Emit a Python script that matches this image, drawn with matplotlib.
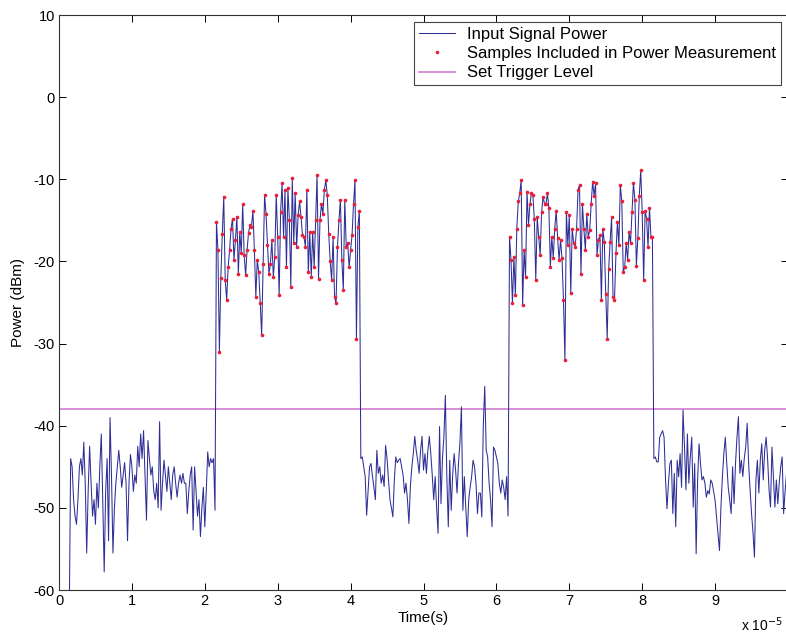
import numpy as np
import matplotlib
matplotlib.use("Agg")
import matplotlib.pyplot as plt

plt.rcParams['font.family'] = ['Liberation Sans', 'DejaVu Sans']
plt.rcParams['axes.unicode_minus'] = False

# ---------------- data (time in units of 1e-5 s, power in dBm) ----------------
t0 = 0.14
dt = 0.02

noise1 = [
    -64, -44, -45, -49, -51, -52, -49, -45, -44, -46,
    -42, -47, -55.5, -48, -42.5, -47, -51, -49, -52, -47,
    -50, -45, -41, -49, -57.8, -48, -44, -54, -39, -46,
    -55.5, -50, -47, -45, -43, -45, -47.5, -46, -44.5, -47,
    -54, -47, -43.5, -45, -48, -46, -47, -42.5, -45, -41,
    -44, -40.6, -46, -51.5, -41.8, -44, -46, -45, -48, -49,
    -47, -50, -39.5, -50.3, -47, -44.2, -46, -48, -45, -47,
    -49, -46, -45, -47, -48.7, -47, -46, -47, -45.8, -47,
    -47, -50.7, -48, -46, -45, -52.7, -45, -48, -51, -49,
    -53.5, -50, -47.5, -52.3, -48, -43.2, -45, -44, -44.5, -44,
    -50.3,
]

burst1 = [
    -15.2, -18.6, -31, -22, -16.6, -12.1, -22.3, -24.7, -20.7, -18.6,
    -16, -14.8, -19.8, -17.4, -14.6, -21.5, -16.4, -19, -13, -19.2,
    -21.7, -18.6, -16.5, -15.6, -15.8, -13.8, -18.6, -24.3, -19.8, -21.3,
    -25, -29, -20.3, -11.9, -14.2, -18, -21.5, -20.3, -17.4, -21.9,
    -19.4, -11.9, -17, -24.1, -14, -10.5, -17, -11.3, -20.7, -11.1,
    -15, -23.1, -9.9, -17.8, -11.7, -18.2, -14.4, -12.7, -14.6, -16.8,
    -17, -18.2, -11.3, -21.3, -16.4, -21.9, -16.4, -20.7, -15, -9.5,
    -22.1, -15, -13, -14.2, -11.3, -10.1, -11.9, -16.6, -20, -22.3,
    -17, -24.3, -25.1, -18.2, -15, -12.5, -19.8, -23.5, -12.5, -18.2,
    -17.8, -20.7, -18.6, -16.8, -13, -10.1, -29.4, -15.8, -13.8,
]

noise2 = [
    -44, -43.8, -45, -46.2, -50.9, -48, -45, -44.6, -46.2, -47.5,
    -49, -43, -45.8, -45, -47, -46, -47.4, -42.4, -44, -46.6,
    -49, -50, -51.1, -46.6, -43.8, -44.5, -44.2, -44, -45, -46,
    -48.2, -47, -49, -51.9, -47.4, -45, -43.4, -41.3, -43, -44.2,
    -45.8, -43, -41.3, -45.4, -43.4, -45.8, -43, -41.3, -43.4, -46,
    -49, -46.2, -50, -53.1, -40.1, -49.5, -44, -41.3, -36.3, -46.2,
    -52.3, -44.2, -50.3, -46, -43.4, -45.4, -48.2, -44.6, -42, -37.7,
    -50.3, -46.2, -50, -53.5, -49, -47.5, -46.2, -44.2, -45, -47,
    -50.7, -48.2, -48.2, -51.1, -40, -35.2, -43, -43.8, -47, -49,
    -52.3, -42.6, -43, -43.8, -44.6, -47, -48.2, -46.6, -47.5, -49,
    -46.2, -51,
]

burst2 = [
    -17, -19.8, -25.1, -19.4, -24.1, -16, -12.7, -11.7, -10.1, -25.3,
    -18.6, -21.9, -11.5, -15.6, -13, -11.7, -11.9, -14.8, -22.3, -14.6,
    -17, -19.2, -14, -12.1, -13, -13, -11.7, -13.5, -20.7, -17,
    -19.6, -16, -13.8, -17.2, -19.8, -17.4, -19.6, -24.7, -32, -14,
    -18, -14.4, -23.9, -16, -17.8, -18.2, -16, -11.3,
    -10.7, -21.5, -13, -16, -18.6, -14.2, -17, -16.2, -13, -10.3,
    -12, -10.5, -19.2, -17.4, -16.8, -24.7, -16, -17.6, -24, -29.4,
    -20.9, -17.6, -14.6, -24.3, -24.7, -19, -15.2, -18, -10.7, -12.7,
    -21.3, -20.7, -17.8, -19.8, -16.4, -17.8, -14, -10.5, -12.5, -20.5,
    -17.2, -12, -8.9, -14, -22.3, -13.8, -14.8, -18.2, -13.5, -17,
    -17,
]

noise3 = [
    -44, -43.8, -44.4, -44.4, -41.4, -41, -40.6, -41.4, -46.6, -50.1,
    -47, -44.6, -44.2, -50.7, -45.8, -52.3, -44.2, -46.2, -43.4, -47.5,
    -38.1, -42.6, -47.8, -41, -47, -43.8, -41.4, -49.9, -44.6, -55.6,
    -46.6, -42.2, -44.6, -46.6, -46.2, -47, -48.7, -47.9, -48.3, -46.6,
    -47, -48, -49.1, -51.1, -53, -55.2, -49.9, -46.2, -43.4, -41.4,
    -44.6, -47.5, -49, -50.7, -45, -49.5, -44.6, -41.4, -38.9, -45.8,
    -44.2, -46.2, -44, -42.6, -39.7, -44.6, -47.8, -50.7, -53, -56,
    -46.6, -44.2, -48.2, -44.2, -42.2, -46.6, -43, -41.4, -44, -47.8,
    -49.9, -42.6, -46.2, -49.9, -46.6, -49.5, -47, -45, -43.8, -50.7,
    -48, -45.8,
]

trigger_level = -38.0

x_ticks = list(range(0, 10))
y_ticks = list(range(-60, 11, 10))

# ---------------- build series ----------------
signal = np.array(noise1 + burst1 + noise2 + burst2 + noise3, dtype=float)
t = t0 + dt * np.arange(len(signal))

n1, b1, n2, b2 = len(noise1), len(burst1), len(noise2), len(burst2)
idx_b1 = np.arange(n1, n1 + b1)
idx_b2 = np.arange(n1 + b1 + n2, n1 + b1 + n2 + b2)
idx_samples = np.concatenate([idx_b1, idx_b2])

# ---------------- plot ----------------
fig = plt.figure(figsize=(7.86, 6.38), dpi=100)
ax = fig.add_axes([59 / 786, 1 - 590 / 638, (788 - 59) / 786, (590 - 15) / 638])

ax.plot(t, signal, color='#2e2e96', lw=0.75, label='Input Signal Power', zorder=2)
ax.plot(t[idx_samples], signal[idx_samples], linestyle='none', marker='.',
        color='#e8203a', markersize=3.2, label='Samples Included in Power Measurement', zorder=3)
ax.axhline(trigger_level, color='#cc70cc', lw=1.1, label='Set Trigger Level', zorder=1)

ax.set_xlim(0, 10)
ax.set_ylim(-60, 10)
ax.set_xticks(x_ticks)
ax.set_yticks(y_ticks)
ax.tick_params(direction='in', top=True, right=True, length=5, width=0.7,
               labelsize=10.5, colors='black', pad=3)
for s in ax.spines.values():
    s.set_linewidth(0.8)
    s.set_color('#333333')

ax.set_xlabel('Time(s)', fontsize=11, labelpad=2)
ax.set_ylabel('Power (dBm)', fontsize=11, labelpad=6)

leg = ax.legend(loc='upper right', bbox_to_anchor=((781 - 59) / 729, (590 - 22) / 575),
                fontsize=12, frameon=True, fancybox=False, framealpha=1,
                edgecolor='#444444', borderpad=0.3, labelspacing=0.25,
                handlelength=2.2, handletextpad=0.7, borderaxespad=0.0)
leg.get_frame().set_linewidth(0.8)

fig.text(741 / 786, 1 - 634 / 638, r'x 10$^{-5}$', fontsize=10, ha='left', va='bottom')

fig.savefig('out.png', dpi=100)
